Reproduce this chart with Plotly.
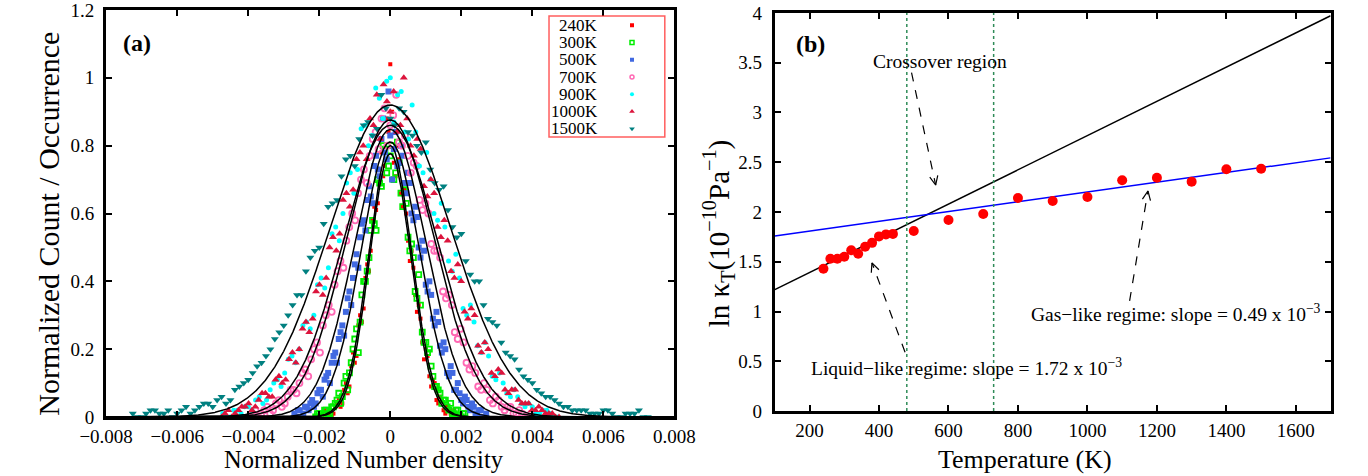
import math
import numpy as np
import plotly.graph_objects as go

# ---------------- panel (a): density-fluctuation histograms ----------------
labels_a = ["240K", "300K", "500K", "700K", "900K", "1000K", "1500K"]

# two sampled sets per temperature: integer bins and half-shifted bins
width_240 = 1.0e-4
bins_240 = list(range(-19, 20))
counts_240 = [0.01, 0.00, 0.02, 0.01, 0.04, 0.03, 0.08, 0.07, 0.15, 0.16,
              0.27, 0.28, 0.41, 0.43, 0.58, 0.61, 0.73, 0.71, 0.88, 1.04,
              0.75, 0.80, 0.66, 0.67, 0.52, 0.49, 0.36, 0.33, 0.22, 0.20,
              0.12, 0.11, 0.05, 0.06, 0.02, 0.03, 0.01, 0.02, 0.00]
bins_240_half = [k + 0.5 for k in range(-19, 19)]
counts_240_half = [0.02, 0.01, 0.00, 0.03, 0.05, 0.04, 0.10, 0.09, 0.19, 0.18,
                   0.30, 0.32, 0.45, 0.49, 0.62, 0.63, 0.78, 0.74, 0.84, 0.90,
                   0.71, 0.76, 0.62, 0.60, 0.46, 0.44, 0.31, 0.29, 0.17, 0.18,
                   0.09, 0.10, 0.04, 0.05, 0.01, 0.02, 0.00, 0.01]

width_300 = 1.0e-4
bins_300 = list(range(-21, 22))
counts_300 = [0.00, 0.01, 0.00, 0.02, 0.01, 0.03, 0.05, 0.04, 0.10, 0.08,
              0.16, 0.23, 0.19, 0.36, 0.40, 0.47, 0.58, 0.55, 0.69, 0.80,
              0.72, 0.77, 0.70, 0.81, 0.66, 0.67, 0.53, 0.51, 0.37, 0.42,
              0.25, 0.22, 0.20, 0.12, 0.09, 0.07, 0.05, 0.03, 0.04, 0.01,
              0.02, 0.00, 0.01]
bins_300_half = [k + 0.5 for k in range(-21, 21)]
counts_300_half = [0.01, 0.00, 0.02, 0.01, 0.03, 0.04, 0.07, 0.06, 0.12, 0.13,
                   0.20, 0.26, 0.28, 0.40, 0.43, 0.55, 0.57, 0.70, 0.68, 0.79,
                   0.74, 0.80, 0.72, 0.75, 0.62, 0.63, 0.49, 0.47, 0.35, 0.33,
                   0.22, 0.19, 0.15, 0.09, 0.08, 0.04, 0.05, 0.02, 0.01, 0.02,
                   0.00, 0.01]

width_500 = 1.0e-4
bins_500 = list(range(-27, 28))
counts_500 = [0.01, 0.02, 0.00, 0.03, 0.02, 0.05, 0.04, 0.08, 0.06, 0.12,
              0.10, 0.18, 0.16, 0.25, 0.24, 0.35, 0.33, 0.45, 0.44, 0.57,
              0.55, 0.68, 0.63, 0.77, 0.71, 0.88, 0.76, 0.83, 0.79, 0.74,
              0.80, 0.69, 0.72, 0.60, 0.62, 0.50, 0.52, 0.39, 0.40, 0.29,
              0.31, 0.21, 0.22, 0.13, 0.15, 0.08, 0.10, 0.05, 0.06, 0.03,
              0.04, 0.01, 0.02, 0.00, 0.01]
bins_500_half = [k + 0.5 for k in range(-27, 27)]
counts_500_half = [0.00, 0.02, 0.01, 0.03, 0.04, 0.03, 0.07, 0.08, 0.11, 0.13,
                   0.16, 0.19, 0.23, 0.27, 0.31, 0.37, 0.41, 0.48, 0.53, 0.58,
                   0.64, 0.65, 0.74, 0.73, 0.82, 0.78, 0.96, 0.70, 0.84, 0.75,
                   0.77, 0.66, 0.69, 0.58, 0.59, 0.47, 0.49, 0.37, 0.36, 0.27,
                   0.28, 0.19, 0.20, 0.12, 0.13, 0.08, 0.07, 0.04, 0.05, 0.02,
                   0.03, 0.01, 0.02, 0.00]

width_700 = 1.65e-4
bins_700 = list(range(-24, 25))
counts_700 = [0.00, 0.02, 0.01, 0.03, 0.02, 0.05, 0.04, 0.08, 0.07, 0.13,
              0.12, 0.20, 0.19, 0.30, 0.31, 0.43, 0.44, 0.56, 0.58, 0.70,
              0.69, 0.82, 0.79, 0.91, 0.86, 0.95, 0.80, 0.77, 0.75, 0.64,
              0.63, 0.51, 0.49, 0.37, 0.36, 0.25, 0.26, 0.16, 0.15, 0.09,
              0.10, 0.05, 0.06, 0.03, 0.03, 0.01, 0.02, 0.00, 0.01]
bins_700_half = [k + 0.5 for k in range(-24, 24)]
counts_700_half = [0.01, 0.00, 0.02, 0.01, 0.04, 0.03, 0.06, 0.08, 0.10, 0.14,
                   0.17, 0.22, 0.27, 0.33, 0.39, 0.46, 0.52, 0.60, 0.66, 0.73,
                   0.77, 0.84, 0.88, 0.80, 0.89, 0.81, 0.83, 0.72, 0.74, 0.61,
                   0.60, 0.49, 0.47, 0.35, 0.33, 0.23, 0.22, 0.14, 0.13, 0.08,
                   0.08, 0.04, 0.05, 0.02, 0.03, 0.01, 0.01, 0.00]

width_900 = 2.05e-4
bins_900 = list(range(-23, 24))
counts_900 = [0.01, 0.00, 0.02, 0.03, 0.02, 0.06, 0.05, 0.10, 0.09, 0.17,
              0.16, 0.27, 0.26, 0.39, 0.38, 0.54, 0.52, 0.69, 0.66, 0.85,
              0.80, 0.97, 0.88, 1.00, 0.95, 0.84, 0.92, 0.74, 0.78, 0.60,
              0.63, 0.46, 0.48, 0.32, 0.33, 0.21, 0.22, 0.12, 0.13, 0.07,
              0.08, 0.04, 0.04, 0.01, 0.02, 0.01, 0.00]
bins_900_half = [k + 0.5 for k in range(-23, 23)]
counts_900_half = [0.00, 0.02, 0.01, 0.03, 0.05, 0.04, 0.08, 0.11, 0.13, 0.18,
                   0.20, 0.28, 0.30, 0.41, 0.44, 0.56, 0.60, 0.72, 0.73, 0.86,
                   0.83, 0.94, 0.99, 0.87, 0.96, 0.82, 0.84, 0.72, 0.70, 0.58,
                   0.56, 0.43, 0.41, 0.30, 0.28, 0.19, 0.18, 0.11, 0.10, 0.06,
                   0.06, 0.03, 0.03, 0.01, 0.02, 0.00]

width_1000 = 1.9e-4
bins_1000 = list(range(-25, 26))
counts_1000 = [0.00, 0.02, 0.01, 0.03, 0.04, 0.03, 0.07, 0.06, 0.11, 0.10,
               0.17, 0.16, 0.26, 0.25, 0.37, 0.36, 0.50, 0.49, 0.64, 0.62,
               0.76, 0.80, 0.88, 0.95, 0.98, 0.90, 0.84, 1.00, 0.80, 0.82,
               0.68, 0.70, 0.56, 0.58, 0.43, 0.45, 0.31, 0.32, 0.21, 0.22,
               0.13, 0.14, 0.08, 0.08, 0.05, 0.04, 0.02, 0.03, 0.01, 0.01, 0.00]
bins_1000_half = [k + 0.5 for k in range(-25, 25)]
counts_1000_half = [0.01, 0.00, 0.02, 0.03, 0.02, 0.05, 0.07, 0.06, 0.12, 0.11,
                    0.19, 0.20, 0.28, 0.29, 0.39, 0.41, 0.53, 0.54, 0.66, 0.67,
                    0.78, 0.76, 0.86, 0.82, 0.93, 0.96, 0.86, 0.88, 0.77, 0.79,
                    0.65, 0.66, 0.53, 0.52, 0.41, 0.40, 0.29, 0.30, 0.19, 0.20,
                    0.12, 0.13, 0.07, 0.08, 0.04, 0.04, 0.02, 0.02, 0.01, 0.00]

width_1500 = 2.5e-4
bins_1500 = list(range(-29, 30))
counts_1500 = [0.01, 0.00, 0.02, 0.01, 0.02, 0.01, 0.03, 0.02, 0.04, 0.03,
               0.06, 0.05, 0.09, 0.11, 0.15, 0.18, 0.23, 0.27, 0.33, 0.36,
               0.47, 0.50, 0.62, 0.64, 0.76, 0.74, 0.86, 0.83, 0.95, 0.88,
               0.91, 0.84, 0.80, 0.81, 0.69, 0.68, 0.56, 0.54, 0.42, 0.40,
               0.29, 0.27, 0.19, 0.17, 0.12, 0.10, 0.07, 0.06, 0.04, 0.03,
               0.02, 0.02, 0.01, 0.02, 0.01, 0.00, 0.01, 0.02, 0.00]
bins_1500_half = [k + 0.5 for k in range(-29, 29)]
counts_1500_half = [0.00, 0.01, 0.02, 0.01, 0.00, 0.02, 0.01, 0.03, 0.04, 0.05,
                    0.04, 0.08, 0.10, 0.13, 0.16, 0.20, 0.25, 0.30, 0.36, 0.43,
                    0.49, 0.57, 0.63, 0.71, 0.77, 0.82, 0.87, 0.85, 0.91, 0.86,
                    0.90, 0.83, 0.78, 0.73, 0.67, 0.61, 0.53, 0.46, 0.40, 0.33,
                    0.28, 0.22, 0.18, 0.14, 0.11, 0.08, 0.06, 0.05, 0.03, 0.02,
                    0.02, 0.01, 0.01, 0.02, 0.00, 0.01, 0.01, 0.00]

# Gaussian fit parameters (amplitude, standard deviation) per temperature
fit_amp = [0.80, 0.776, 0.811, 0.848, 0.876, 0.86, 0.92]
fit_sigma = [0.00060, 0.00058, 0.00082, 0.00100, 0.00122, 0.00132, 0.00170]

a_xticks = [-0.008, -0.006, -0.004, -0.002, 0, 0.002, 0.004, 0.006, 0.008]
a_yticks = [0, 0.2, 0.4, 0.6, 0.8, 1, 1.2]

# ---------------- panel (b): isothermal compressibility ----------------
temps_b = [240, 260, 280, 300, 320, 340, 360, 380, 400, 420, 440,
           500, 600, 700, 800, 900, 1000, 1100, 1200, 1300, 1400, 1500]
ln_kappa = [1.43, 1.53, 1.53, 1.55, 1.615, 1.58, 1.65, 1.69, 1.755, 1.775, 1.78,
            1.81, 1.92, 1.98, 2.14, 2.11, 2.15, 2.32, 2.345, 2.305, 2.43, 2.435]
liquid_slope, liquid_intercept = 1.72e-3, 1.048
gas_slope, gas_intercept = 0.49e-3, 1.711
crossover_bounds = [480, 730]

b_xticks = [200, 400, 600, 800, 1000, 1200, 1400, 1600]
b_yticks = [0, 0.5, 1, 1.5, 2, 2.5, 3, 3.5, 4]

# ---------------- styling / geometry ----------------
FONT = "Liberation Serif"
W, H = 1368, 476
M_T, M_B = 7, 59
PLOT_TOP, PLOT_BOT = M_T, H - M_B          # 7 .. 417 px
A_LEFT, A_RIGHT = 82, 671
B_LEFT, B_RIGHT = 775, 1351
B_TOP, B_BOT = 10, 411
XA_RANGE, YA_RANGE = [-0.008, 0.008], [0, 1.2]
XB_RANGE, YB_RANGE = [100, 1700], [0, 4]


def paper_x(px):
    return px / W


def paper_y(py):
    return (PLOT_BOT - py) / (PLOT_BOT - PLOT_TOP)


def a_data(px, py):
    x = XA_RANGE[0] + (px - A_LEFT) * (XA_RANGE[1] - XA_RANGE[0]) / (A_RIGHT - A_LEFT)
    y = YA_RANGE[0] + (PLOT_BOT - py) * (YA_RANGE[1] - YA_RANGE[0]) / (PLOT_BOT - PLOT_TOP)
    return x, y


B_PX_PER_X = (B_RIGHT - B_LEFT) / (XB_RANGE[1] - XB_RANGE[0])
B_PX_PER_Y = (B_BOT - B_TOP) / (YB_RANGE[1] - YB_RANGE[0])


def b_data(px, py):
    return (XB_RANGE[0] + (px - B_LEFT) / B_PX_PER_X,
            YB_RANGE[0] + (B_BOT - py) / B_PX_PER_Y)


styles = [
    dict(symbol="square", color="#ff0000", size=4),
    dict(symbol="square-open", color="#00ee00", size=5, line=dict(width=1.8, color="#00ee00")),
    dict(symbol="square", color="#4169e1", size=6),
    dict(symbol="circle-open", color="#ff69b4", size=6, line=dict(width=1.8, color="#ff69b4")),
    dict(symbol="circle", color="#00ffff", size=5),
    dict(symbol="triangle-up", color="#dc143c", size=7),
    dict(symbol="triangle-down", color="#008080", size=7),
]
legend_styles = [
    dict(symbol="square", color="#ff0000", size=4),
    dict(symbol="square-open", color="#00ee00", size=4, line=dict(width=1.5, color="#00ee00")),
    dict(symbol="square", color="#4169e1", size=4),
    dict(symbol="circle-open", color="#ff69b4", size=4, line=dict(width=1.5, color="#ff69b4")),
    dict(symbol="circle", color="#00ffff", size=4),
    dict(symbol="triangle-up", color="#dc143c", size=5),
    dict(symbol="triangle-down", color="#008080", size=5),
]

series = [
    (width_240, bins_240, counts_240, bins_240_half, counts_240_half),
    (width_300, bins_300, counts_300, bins_300_half, counts_300_half),
    (width_500, bins_500, counts_500, bins_500_half, counts_500_half),
    (width_700, bins_700, counts_700, bins_700_half, counts_700_half),
    (width_900, bins_900, counts_900, bins_900_half, counts_900_half),
    (width_1000, bins_1000, counts_1000, bins_1000_half, counts_1000_half),
    (width_1500, bins_1500, counts_1500, bins_1500_half, counts_1500_half),
]

fig = go.Figure()

for (w, b1, c1, b2, c2), st in zip(series, styles):
    fig.add_trace(go.Scatter(
        x=[b * w for b in b1] + [b * w for b in b2], y=c1 + c2, mode="markers",
        marker=st, xaxis="x", yaxis="y", showlegend=False))

xfit = np.linspace(XA_RANGE[0], XA_RANGE[1], 1601)
for amp, sig in zip(fit_amp, fit_sigma):
    fig.add_trace(go.Scatter(
        x=xfit, y=amp * np.exp(-xfit ** 2 / (2 * sig ** 2)), mode="lines",
        line=dict(color="black", width=1.5), xaxis="x", yaxis="y",
        showlegend=False, hoverinfo="skip"))

# legend block (text right-aligned, symbol to the right)
leg_rows_py = [22.3, 39.7, 57.1, 74.5, 91.9, 109.3, 126.7]
annotations = []
shapes = []
for lab, py, st in zip(labels_a, leg_rows_py, legend_styles):
    mx, my = a_data(627, py)
    fig.add_trace(go.Scatter(x=[mx], y=[my], mode="markers", marker=st,
                             xaxis="x", yaxis="y", showlegend=False))
    annotations.append(dict(x=paper_x(594), y=paper_y(py), xref="paper", yref="paper",
                            text=lab, showarrow=False, xanchor="right", yanchor="middle",
                            font=dict(family=FONT, size=17, color="black")))
shapes.append(dict(type="rect", xref="paper", yref="paper",
                   x0=paper_x(541), x1=paper_x(661), y0=paper_y(135), y1=paper_y(13),
                   line=dict(color="rgba(255,40,40,0.75)", width=1.5)))

# panel (b) traces
fig.add_trace(go.Scatter(
    x=XB_RANGE, y=[liquid_intercept + liquid_slope * t for t in XB_RANGE], mode="lines",
    line=dict(color="black", width=1.5), xaxis="x2", yaxis="y2", showlegend=False))
fig.add_trace(go.Scatter(
    x=XB_RANGE, y=[gas_intercept + gas_slope * t for t in XB_RANGE], mode="lines",
    line=dict(color="#0000ff", width=1.5), xaxis="x2", yaxis="y2", showlegend=False))
fig.add_trace(go.Scatter(
    x=temps_b, y=ln_kappa, mode="markers",
    marker=dict(color="#ff0000", size=10, symbol="circle"),
    xaxis="x2", yaxis="y2", showlegend=False))

for xb in crossover_bounds:
    shapes.append(dict(type="line", xref="x2", yref="y2", x0=xb, x1=xb,
                       y0=YB_RANGE[0], y1=YB_RANGE[1],
                       line=dict(color="#2e8b57", width=1.5, dash="dot")))


def dashed_arrow(tail_px, head_px):
    tx, ty = b_data(*tail_px)
    hx, hy = b_data(*head_px)
    shapes.append(dict(type="line", xref="x2", yref="y2", x0=tx, y0=ty, x1=hx, y1=hy,
                       line=dict(color="black", width=1.2, dash="dash")))
    dx, dy = tail_px[0] - head_px[0], tail_px[1] - head_px[1]
    n = math.hypot(dx, dy)
    ux, uy = dx / n, dy / n
    for ang in (25, -25):
        a = math.radians(ang)
        wx = ux * math.cos(a) - uy * math.sin(a)
        wy = ux * math.sin(a) + uy * math.cos(a)
        ex, ey = b_data(head_px[0] + 10 * wx, head_px[1] + 10 * wy)
        shapes.append(dict(type="line", xref="x2", yref="y2", x0=hx, y0=hy, x1=ex, y1=ey,
                           line=dict(color="black", width=1.2)))


dashed_arrow((916.7, 70), (941.7, 183.3))
dashed_arrow((910, 351.7), (875.7, 261.7))
dashed_arrow((1142.7, 300), (1161.7, 189.3))

txt = dict(family=FONT, size=19.5, color="black")
annotations += [
    dict(x=paper_x(946), y=paper_y(59), xref="paper", yref="paper", text="Crossover region",
         showarrow=False, xanchor="center", yanchor="middle", font=txt),
    dict(x=paper_x(810), y=paper_y(367), xref="paper", yref="paper",
         text=f"Liquid\u2212like regime: slope = {liquid_slope * 1e3:.2f} x 10<sup>\u22123</sup>",
         showarrow=False, xanchor="left", yanchor="middle", font=txt),
    dict(x=paper_x(1038), y=paper_y(312), xref="paper", yref="paper",
         text=f"Gas\u2212like regime: slope = {gas_slope * 1e3:.2f} x 10<sup>\u22123</sup>",
         showarrow=False, xanchor="left", yanchor="middle", font=txt),
    dict(x=paper_x(97), y=paper_y(40), xref="paper", yref="paper", text="<b>(a)</b>",
         showarrow=False, xanchor="left", yanchor="middle",
         font=dict(family=FONT, size=24, color="black")),
    dict(x=paper_x(795), y=paper_y(41), xref="paper", yref="paper", text="<b>(b)</b>",
         showarrow=False, xanchor="left", yanchor="middle",
         font=dict(family=FONT, size=24, color="black")),
    # axis titles
    dict(x=paper_x(22), y=paper_y(222), xref="paper", yref="paper",
         text="Normalized Count / Occurrence", textangle=-90, showarrow=False,
         xanchor="center", yanchor="middle", font=dict(family=FONT, size=30, color="black")),
    dict(x=paper_x(349), y=paper_y(460), xref="paper", yref="paper",
         text="Normalized Number density", showarrow=False,
         xanchor="center", yanchor="middle", font=dict(family=FONT, size=24.5, color="black")),
    dict(x=paper_x(717), y=paper_y(232), xref="paper", yref="paper",
         text="ln \u03ba<sub>T</sub>(10<sup>\u221210</sup>Pa<sup>\u22121</sup>)", textangle=-90,
         showarrow=False, xanchor="center", yanchor="middle",
         font=dict(family=FONT, size=29, color="black")),
    dict(x=paper_x(1034), y=paper_y(460), xref="paper", yref="paper",
         text="Temperature (K)", showarrow=False,
         xanchor="center", yanchor="middle", font=dict(family=FONT, size=26, color="black")),
]

axis_common = dict(showline=True, linecolor="black", linewidth=3, mirror="allticks",
                   ticks="inside", ticklen=6, tickwidth=2, tickcolor="black",
                   showgrid=False, zeroline=False, ticklabeloverflow="allow",
                   tickfont=dict(family=FONT, size=19, color="black"))

fig.update_layout(
    width=W, height=H,
    margin=dict(l=0, r=0, t=M_T, b=M_B, pad=0),
    paper_bgcolor="white", plot_bgcolor="white",
    font=dict(family=FONT, color="black"),
    xaxis=dict(domain=[paper_x(A_LEFT), paper_x(A_RIGHT)], range=XA_RANGE,
               tickvals=a_xticks, anchor="y", **axis_common),
    yaxis=dict(domain=[0, 1], range=YA_RANGE, tickvals=a_yticks, anchor="x",
               ticklabelstandoff=5, **axis_common),
    xaxis2=dict(domain=[paper_x(B_LEFT), paper_x(B_RIGHT)], range=XB_RANGE,
                tickvals=b_xticks, anchor="y2", **axis_common),
    yaxis2=dict(domain=[paper_y(B_BOT), paper_y(B_TOP)], range=YB_RANGE,
                tickvals=b_yticks, anchor="x2", ticklabelstandoff=6, **axis_common),
    shapes=shapes,
    annotations=annotations,
    showlegend=False,
)

fig.write_html("out.html")
